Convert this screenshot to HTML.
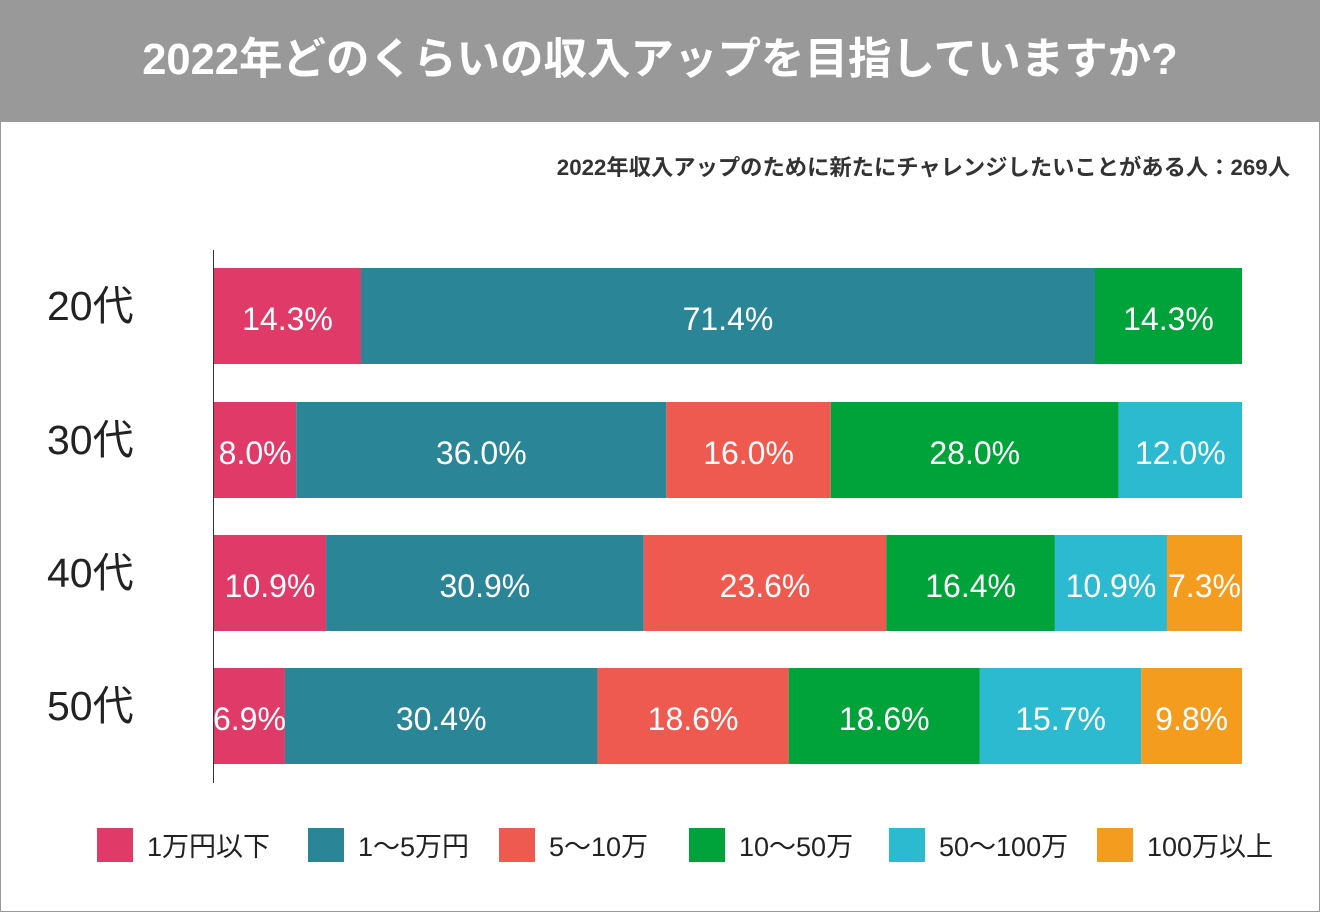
<!DOCTYPE html>
<html><head><meta charset="utf-8">
<style>
body{margin:0;width:1320px;height:912px;overflow:hidden;background:#fff;font-family:"Liberation Sans","Noto Sans CJK JP",sans-serif;}
#frame{position:absolute;left:0;top:0;width:1318px;height:910px;border:1px solid #999;}
#hdr{position:absolute;left:0;top:0;width:1320px;height:122px;background:#999;}
#title{position:absolute;left:0;top:30px;width:1320px;text-align:center;color:#fff;font-weight:bold;font-size:43.5px;line-height:60px;}
#sub{position:absolute;right:30px;top:150px;color:#333;font-weight:bold;font-size:22.3px;}
svg{position:absolute;left:0;top:0;}
</style></head><body>
<div id="frame"></div>
<div id="hdr"></div>
<div id="title">2022年どのくらいの収入アップを目指していますか?</div>
<div id="sub">2022年収入アップのために新たにチャレンジしたいことがある人：269人</div>
<svg id="chart" width="1320" height="912"></svg>
<script>
const categories=["20代","30代","40代","50代"];
const seriesNames=["1万円以下","1〜5万円","5〜10万","10〜50万","50〜100万","100万以上"];
const s1=[14.3,8.0,10.9,6.9];
const s2=[71.4,36.0,30.9,30.4];
const s3=[0,16.0,23.6,18.6];
const s4=[14.3,28.0,16.4,18.6];
const s5=[0,12.0,10.9,15.7];
const s6=[0,0,7.3,9.8];
const series=[s1,s2,s3,s4,s5,s6];
const colors=["#e03a68","#2a8696","#ef5a50","#00a23a","#2bbad0","#f39c1e"];
const NS="http://www.w3.org/2000/svg";
const svg=document.getElementById('chart');
const x0=214,plotW=1028,barH=96;
const rowY=[268,402,535,668];
function mk(t,a){const e=document.createElementNS(NS,t);for(const k in a)e.setAttribute(k,a[k]);svg.appendChild(e);return e;}
const ax=mk('line',{x1:213.5,y1:250,x2:213.5,y2:783,stroke:'#333','stroke-width':1});


categories.forEach((c,i)=>{
  let tot=0;series.forEach(s=>tot+=s[i]);
  const xs=v=>v/tot*plotW;
  let cx=x0;
  const y=rowY[i];
  const lb=mk('text',{x:47,y:y+barH/2+4,'font-size':41,fill:'#222'});
  lb.textContent=c;
  
  
  series.forEach((s,j)=>{
    const v=s[i];if(!v)return;
    const w=xs(v);
    const r=mk('rect',{x:cx,y:y,width:w,height:barH,fill:colors[j]});
    
    
    const t=mk('text',{x:cx+w/2,y:y+barH/2+14,'font-size':32,fill:'#fff','text-anchor':'middle'});
    t.textContent=v.toFixed(1)+'%';
    
    
    cx+=w;
  });
});
const legX=[97,308,499,689,889,1097];
seriesNames.forEach((n,j)=>{
  const r=mk('rect',{x:legX[j],y:828,width:36,height:34,fill:colors[j]});
  
  
  const t=mk('text',{x:legX[j]+50,y:856,'font-size':27,fill:'#222'});
  t.textContent=n;
  
  
});
</script>
</body></html>
